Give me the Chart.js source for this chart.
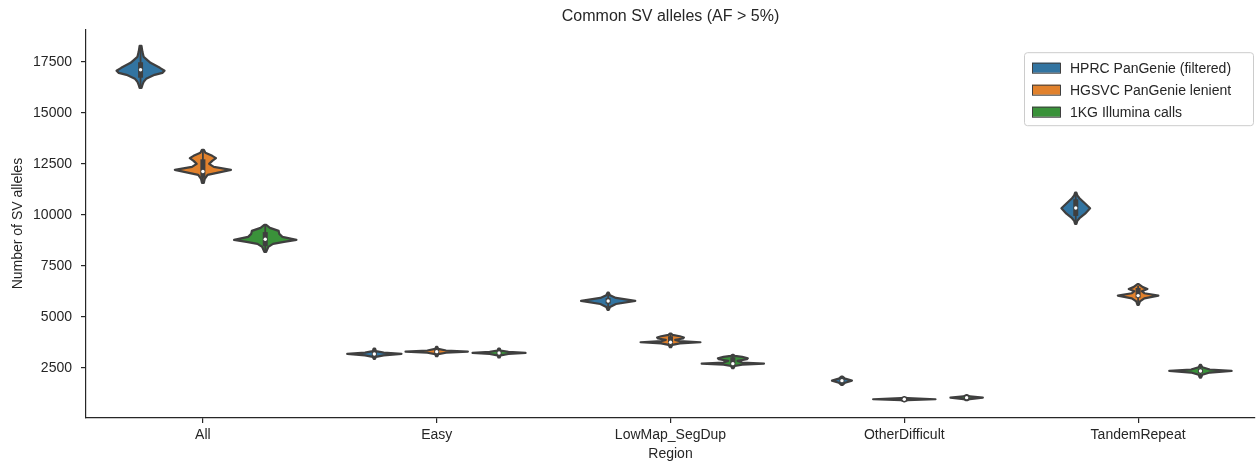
<!DOCTYPE html>
<html>
<head>
<meta charset="utf-8">
<script src="https://cdn.jsdelivr.net/npm/chart.js@4/dist/chart.umd.min.js"></script>
<style>
  html, body { margin: 0; padding: 0; background: #fff; }
  #wrap { width: 1257px; height: 465px; }
</style>
</head>
<body>
<div id="wrap"><canvas id="myChart" width="1257" height="465"></canvas></div>
<script>

const regions = ["All", "Easy", "LowMap_SegDup", "OtherDifficult", "TandemRepeat"];
const seriesNames = ["HPRC PanGenie (filtered)", "HGSVC PanGenie lenient", "1KG Illumina calls"];
const seriesColors = ["#3274a1", "#e1812c", "#3a923a"];
const yTicks = [2500, 5000, 7500, 10000, 12500, 15000, 17500];

// box stats per region: [whisker low, q1, median, q3, whisker high]
const hprcStats = [
  [16280, 16780, 17110, 17420, 18230],
  [2960, 3130, 3171, 3215, 3410],
  [5400, 5700, 5772, 5850, 6120],
  [1700, 1820, 1861, 1900, 2020],
  [9620, 10000, 10330, 10700, 11020]
];
const hgsvcStats = [
  [11620, 11870, 12120, 12660, 13120],
  [3100, 3250, 3285, 3320, 3490],
  [3540, 3720, 3746, 3980, 4140],
  [880, 925, 949, 975, 1020],
  [5650, 5990, 6033, 6350, 6520]
];
const kgStats = [
  [8220, 8520, 8800, 9090, 9450],
  [3040, 3190, 3220, 3250, 3400],
  [2500, 2680, 2696, 2950, 3100],
  [940, 1000, 1027, 1060, 1120],
  [2060, 2300, 2337, 2380, 2580]
];

// violin outlines per region: [value, relative half width]
const hprcShapes = [
  [[16225,0.03],[16370,0.06],[16520,0.1],[16665,0.18],[16860,0.45],[16960,0.7],[17060,0.77],[17205,0.62],[17450,0.32],[17745,0.1],[17990,0.06],[18285,0.03]],
  [[2930,0.02],[3030,0.05],[3100,0.3],[3171,0.87],[3240,0.3],[3310,0.05],[3440,0.02]],
  [[5330,0.02],[5480,0.06],[5620,0.25],[5772,0.87],[5920,0.25],[6050,0.06],[6180,0.02]],
  [[1650,0.02],[1760,0.1],[1861,0.32],[1960,0.1],[2058,0.02]],
  [[9550,0.02],[9700,0.05],[9830,0.12],[10050,0.3],[10320,0.46],[10550,0.3],[10810,0.12],[10950,0.05],[11087,0.02]]
];
const hgsvcShapes = [
  [[11563,0.03],[11759,0.06],[11955,0.15],[12102,0.6],[12200,0.9],[12348,0.35],[12495,0.2],[12642,0.3],[12775,0.42],[12888,0.3],[13035,0.08],[13182,0.03]],
  [[3060,0.02],[3160,0.05],[3230,0.3],[3285,1.0],[3340,0.3],[3420,0.05],[3520,0.02]],
  [[3500,0.02],[3620,0.06],[3690,0.3],[3746,0.96],[3800,0.3],[3860,0.15],[3930,0.4],[3979,0.43],[4040,0.3],[4110,0.06],[4175,0.02]],
  [[850,0.02],[900,0.1],[949,1.0],[1000,0.1],[1050,0.02]],
  [[5576,0.02],[5750,0.06],[5900,0.2],[6033,0.65],[6150,0.2],[6250,0.12],[6361,0.3],[6450,0.15],[6592,0.02]]
];
const kgShapes = [
  [[8176,0.03],[8422,0.1],[8569,0.25],[8667,0.6],[8765,1.0],[8913,0.55],[9060,0.45],[9208,0.43],[9355,0.15],[9502,0.03]],
  [[3000,0.02],[3100,0.05],[3170,0.3],[3220,0.85],[3270,0.3],[3340,0.05],[3440,0.02]],
  [[2470,0.02],[2580,0.06],[2650,0.3],[2696,1.0],[2750,0.3],[2830,0.15],[2910,0.45],[2960,0.48],[3030,0.3],[3080,0.06],[3122,0.02]],
  [[900,0.02],[960,0.1],[1027,0.52],[1090,0.1],[1150,0.02]],
  [[2008,0.02],[2150,0.06],[2260,0.3],[2337,1.0],[2410,0.3],[2520,0.06],[2632,0.02]]
];

const allStats = [hprcStats, hgsvcStats, kgStats];
const allShapes = [hprcShapes, hgsvcShapes, kgShapes];

const edge = "#3f3f3f";
const ink = "#262626";
const font = "'Liberation Sans', Arial, sans-serif";

// bars are only used for placement, violins get painted on top of them
const violinPlugin = {
  id: "violins",
  beforeDatasetDraw: function () { return false; },
  afterDatasetsDraw: function (chart) {
    const ctx = chart.ctx;
    const y = chart.scales.y;
    for (let d = 0; d < chart.data.datasets.length; d++) {
      const meta = chart.getDatasetMeta(d);
      meta.data.forEach(function (bar, i) {
        const cx = bar.x;
        const half = bar.width / 2;
        const shape = allShapes[d][i];
        const st = allStats[d][i];

        ctx.save();
        ctx.beginPath();
        for (let k = 0; k < shape.length; k++) {
          const px = cx + shape[k][1] * half;
          const py = y.getPixelForValue(shape[k][0]);
          if (k == 0) ctx.moveTo(px, py); else ctx.lineTo(px, py);
        }
        for (let k = shape.length - 1; k >= 0; k--) {
          ctx.lineTo(cx - shape[k][1] * half, y.getPixelForValue(shape[k][0]));
        }
        ctx.closePath();
        ctx.fillStyle = seriesColors[d];
        ctx.fill();
        ctx.lineJoin = "round";
        ctx.lineWidth = 2.2;
        ctx.strokeStyle = edge;
        ctx.stroke();

        // whiskers
        ctx.beginPath();
        ctx.moveTo(cx, y.getPixelForValue(st[0]));
        ctx.lineTo(cx, y.getPixelForValue(st[4]));
        ctx.lineWidth = 1.8;
        ctx.stroke();

        // interquartile box
        const top = y.getPixelForValue(st[3]);
        const bot = y.getPixelForValue(st[1]);
        ctx.fillStyle = edge;
        ctx.fillRect(cx - 2.5, top - 1.2, 5, (bot - top) + 2.4);

        // median
        ctx.beginPath();
        ctx.arc(cx, y.getPixelForValue(st[2]), 1.7, 0, Math.PI * 2);
        ctx.fillStyle = "#ffffff";
        ctx.fill();
        ctx.restore();
      });
    }
  },
  afterDraw: function (chart) {
    // legend box in the upper right corner of the plot
    const ctx = chart.ctx;
    const area = chart.chartArea;
    const w = 229, h = 73;
    const lx = area.right - 2 - w;
    const ly = area.top + 23;
    ctx.save();
    ctx.beginPath();
    ctx.roundRect(lx + 0.5, ly + 0.5, w, h, 3);
    ctx.fillStyle = "rgba(255,255,255,0.8)";
    ctx.fill();
    ctx.strokeStyle = "#cccccc";
    ctx.lineWidth = 1;
    ctx.stroke();
    ctx.font = "14px " + font;
    ctx.textBaseline = "middle";
    seriesNames.forEach(function (name, i) {
      const rowY = ly + 15.5 + i * 22;
      ctx.fillStyle = seriesColors[i];
      ctx.fillRect(lx + 8, rowY - 5, 28, 10);
      ctx.strokeStyle = edge;
      ctx.lineWidth = 1;
      ctx.strokeRect(lx + 8.5, rowY - 4.5, 28, 10);
      ctx.fillStyle = ink;
      ctx.fillText(name, lx + 46, rowY + 1);
    });
    ctx.restore();
  }
};

const data = {
  labels: regions,
  datasets: seriesNames.map(function (name, d) {
    return {
      label: name,
      backgroundColor: seriesColors[d],
      data: allStats[d].map(function (s) { return s[2]; })
    };
  })
};

const config = {
  type: "bar",
  data: data,
  options: {
    responsive: false,
    animation: false,
    devicePixelRatio: 1,
    categoryPercentage: 0.8,
    barPercentage: 1.0,
    layout: { padding: { left: 0, right: 2, top: 0, bottom: 0 } },
    plugins: {
      legend: { display: false },
      tooltip: { enabled: false },
      title: {
        display: true,
        text: "Common SV alleles (AF > 5%)",
        fullSize: false,
        color: ink,
        font: { family: font, size: 16, weight: "normal" },
        padding: { top: 7, bottom: 3 }
      }
    },
    scales: {
      x: {
        offset: true,
        grid: { offset: false, drawOnChartArea: false, drawTicks: true, tickLength: 5, color: ink, lineWidth: 1.2 },
        border: { display: true, color: ink, width: 1.2 },
        ticks: { color: ink, font: { family: font, size: 14 }, padding: 4, maxRotation: 0 },
        title: { display: true, text: "Region", color: ink, font: { family: font, size: 14 }, padding: { top: 0, bottom: 2 } },
        afterFit: function (s) { s.height = 47; }
      },
      y: {
        min: 30,
        max: 19100,
        afterBuildTicks: function (s) { s.ticks = yTicks.map(function (v) { return { value: v }; }); },
        grid: { drawOnChartArea: false, drawTicks: true, tickLength: 5, color: ink, lineWidth: 1.2 },
        border: { display: true, color: ink, width: 1.2 },
        ticks: {
          color: ink,
          font: { family: font, size: 14 },
          padding: 9,
          callback: function (v) { return String(v); }
        },
        title: { display: true, text: "Number of SV alleles", color: ink, font: { family: font, size: 14 }, padding: { top: 10, bottom: 0 } },
        afterFit: function (s) { s.width = 86; }
      }
    }
  },
  plugins: [violinPlugin]
};

const myChart = new Chart(document.getElementById("myChart"), config);
</script>
</body>
</html>
